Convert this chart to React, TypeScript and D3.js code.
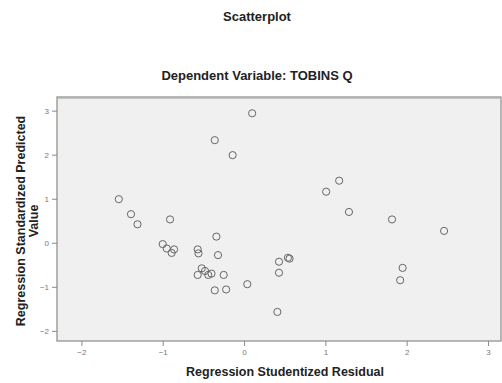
import React, { useEffect, useRef } from 'react';
import * as d3 from 'd3';

// Regression Studentized Residual (x) / Regression Standardized Predicted Value (y)
const residuals = [
  0.10, -0.36, -0.14, -1.54, -1.39, -1.31, -0.91, -1.00, -0.95, -0.86, -0.89, -0.57,
  -0.56, -0.34, -0.32, -0.52, -0.48, -0.57, -0.44, -0.40, -0.25, -0.36, -0.22, 0.04,
  0.43, 0.43, 0.54, 0.56, 0.41, 1.17, 1.01, 1.29, 1.82, 2.46, 1.95, 1.92,
];
const predicted = [
  2.94, 2.33, 1.99, 0.99, 0.65, 0.42, 0.53, -0.03, -0.13, -0.15, -0.23, -0.15,
  -0.24, 0.14, -0.28, -0.58, -0.64, -0.73, -0.73, -0.70, -0.73, -1.08, -1.06, -0.94,
  -0.43, -0.68, -0.34, -0.36, -1.57, 1.41, 1.16, 0.70, 0.53, 0.27, -0.57, -0.85,
];
const xTicks = [-2, -1, 0, 1, 2, 3];
const yTicks = [-2, -1, 0, 1, 2, 3];

const width = 502;
const height = 383;
const plot = { left: 57, top: 97, right: 501, bottom: 341 };

export default function App() {
  const svgRef = useRef<SVGSVGElement>(null);

  useEffect(() => {
    if (!svgRef.current) return;
    const svg = d3.select(svgRef.current);
    svg.selectAll('*').remove();

    const x = d3.scaleLinear().domain([-2.3, 3.16]).range([plot.left, plot.right]);
    const y = d3.scaleLinear().domain([-2.23, 3.31]).range([plot.bottom, plot.top]);

    const font = '"Liberation Sans", Arial, sans-serif';

    // plot background + frame
    svg.append('rect')
      .attr('x', plot.left).attr('y', plot.top)
      .attr('width', plot.right - plot.left).attr('height', plot.bottom - plot.top)
      .attr('fill', '#f0f0f0').attr('stroke', '#8a8a8a').attr('stroke-width', 1.2);
    svg.append('line')
      .attr('x1', plot.left).attr('x2', plot.right)
      .attr('y1', plot.top + 1.5).attr('y2', plot.top + 1.5)
      .attr('stroke', '#c4c4c4').attr('stroke-width', 1);

    // axes
    const xAxis = svg.append('g')
      .attr('transform', `translate(0,${plot.bottom})`)
      .call(d3.axisBottom(x).tickValues(xTicks).tickSize(5).tickPadding(3).tickFormat(d3.format('d')));
    const yAxis = svg.append('g')
      .attr('transform', `translate(${plot.left},0)`)
      .call(d3.axisLeft(y).tickValues(yTicks).tickSize(5).tickPadding(3).tickFormat(d3.format('d')));
    [xAxis, yAxis].forEach(g => {
      g.select('.domain').remove();
      g.selectAll('.tick line').attr('stroke', '#8a8a8a');
      g.selectAll('.tick text')
        .attr('fill', '#777')
        .attr('font-size', 8)
        .attr('font-family', font);
    });

    // points
    svg.append('g')
      .selectAll('circle')
      .data(residuals.map((r, i) => [r, predicted[i]]))
      .join('circle')
      .attr('cx', d => x(d[0]))
      .attr('cy', d => y(d[1]))
      .attr('r', 3.6)
      .attr('fill', 'none')
      .attr('stroke', '#666')
      .attr('stroke-width', 1);

    // titles
    svg.append('text')
      .attr('x', 257).attr('y', 21)
      .attr('text-anchor', 'middle')
      .attr('font-family', font).attr('font-weight', 'bold').attr('font-size', 13)
      .attr('fill', '#222')
      .text('Scatterplot');
    svg.append('text')
      .attr('x', 257).attr('y', 80)
      .attr('text-anchor', 'middle')
      .attr('font-family', font).attr('font-weight', 'bold').attr('font-size', 13)
      .attr('fill', '#222')
      .text('Dependent Variable: TOBINS Q');
    svg.append('text')
      .attr('x', 285).attr('y', 376)
      .attr('text-anchor', 'middle')
      .attr('font-family', font).attr('font-weight', 'bold').attr('font-size', 12.5)
      .attr('fill', '#222')
      .text('Regression Studentized Residual');

    const yTitle = svg.append('text')
      .attr('transform', `translate(25,${(plot.top + plot.bottom) / 2 + 2}) rotate(-90)`)
      .attr('text-anchor', 'middle')
      .attr('font-family', font).attr('font-weight', 'bold').attr('font-size', 12.5)
      .attr('fill', '#222');
    yTitle.append('tspan').attr('x', 0).attr('dy', 0).text('Regression Standardized Predicted');
    yTitle.append('tspan').attr('x', 0).attr('dy', 13).text('Value');
  }, []);

  return (
    <div style={{ position: 'absolute', left: 0, top: 0, background: '#fff' }}>
      <svg ref={svgRef} width={width} height={height} style={{ display: 'block' }} />
    </div>
  );
}
